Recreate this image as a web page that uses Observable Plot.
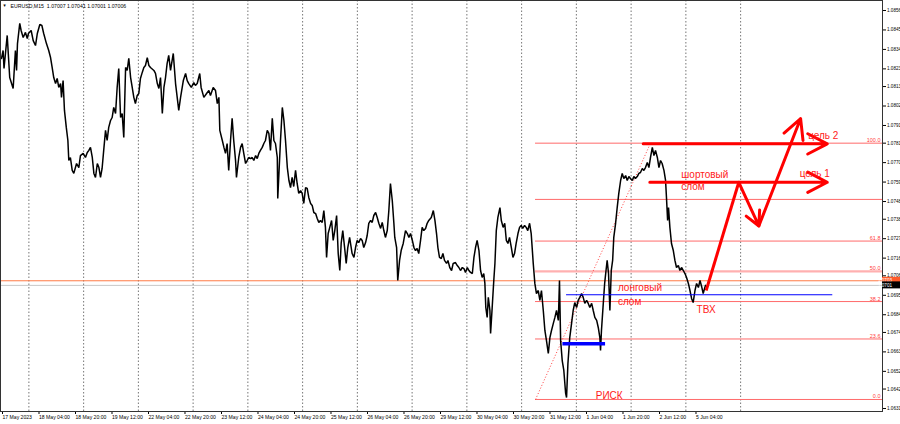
<!DOCTYPE html>
<html><head><meta charset="utf-8">
<script src="https://cdn.jsdelivr.net/npm/d3@7"></script>
<script src="https://cdn.jsdelivr.net/npm/@observablehq/plot@0.6"></script>
<style>
html,body{margin:0;padding:0;background:#fff;}
#chart{width:900px;height:424px;overflow:hidden;}
</style>
</head><body><div id="chart"></div>
<script>
// ---- header ----
const symbol = "EURUSD,M15";
const lastOHLC = [1.07007, 1.07041, 1.07001, 1.07006];

// ---- price series: [trading hours since 17 May 12:00, close] ----
const eurusdM15 = [
[0,1.08289],[0.7,1.08334],[1.1,1.08232],[2.5,1.08419],[3.6,1.08181],[5.1,1.08119],[6.1,1.08334],[6.6,1.08221],[7.0,1.08373],[8.0,1.08487],
[8.6,1.08447],[9.5,1.08407],[10.5,1.08436],[11.3,1.08401],[11.8,1.08430],[13.0,1.08447],[13.9,1.08390],[14.9,1.08362],[15.7,1.08430],[16.8,1.08481],
[17.7,1.08475],[18.5,1.08430],[19.7,1.08373],[20.7,1.08334],[21.5,1.08294],[22.2,1.08238],[22.9,1.08181],[23.7,1.08147],[24.4,1.08176],[25.1,1.08125],
[25.9,1.08147],[26.3,1.08069],[27.0,1.08164],[27.6,1.07995],[28.4,1.07899],[29.1,1.07825],[29.5,1.07712],[30.2,1.07729],[31.0,1.07656],[31.7,1.07639],
[32.9,1.07695],[33.9,1.07672],[34.6,1.07740],[35.8,1.07752],[36.8,1.07729],[37.6,1.07757],[38.3,1.07769],[39.0,1.07786],[39.8,1.07729],[40.5,1.07639],
[41.2,1.07616],[42.0,1.07695],[42.7,1.07672],[43.4,1.07616],[44.1,1.07667],[44.8,1.07769],[45.6,1.07882],[46.3,1.07825],[47.0,1.07899],[47.8,1.07938],
[48.5,1.07955],[49.2,1.08012],[50.0,1.07978],[50.7,1.08125],[51.4,1.08232],[52.2,1.07955],[52.9,1.07978],[53.6,1.07842],[54.4,1.08238],[55.1,1.08221],
[55.8,1.08289],[56.6,1.08181],[57.3,1.08125],[58.0,1.08069],[58.7,1.08034],[59.5,1.08080],[60.2,1.08091],[60.9,1.08176],[61.7,1.08210],[62.4,1.08238],
[63.1,1.08249],[63.9,1.08294],[64.6,1.08249],[65.3,1.08238],[66.8,1.08221],[67.5,1.08204],[68.3,1.08147],[69.0,1.08119],[69.7,1.08181],[70.5,1.07978],
[71.2,1.08125],[71.9,1.08181],[72.6,1.08260],[73.3,1.08306],[74.1,1.08221],[75.3,1.08317],[76.3,1.08147],[77.7,1.07995],[78.5,1.08069],[79.7,1.08164],
[80.7,1.08204],[81.4,1.08164],[82.1,1.08147],[83.2,1.08125],[84.3,1.08153],[85.0,1.08136],[85.8,1.08147],[86.9,1.08204],[87.5,1.08125],[88.7,1.08069],
[89.9,1.08091],[90.9,1.08108],[91.6,1.08080],[92.8,1.08125],[93.8,1.08108],[94.6,1.08034],[95.3,1.08069],[95.7,1.07882],[96.8,1.07825],[97.5,1.07786],
[98.2,1.07752],[98.9,1.07808],[99.6,1.07656],[100.4,1.07825],[101.1,1.07950],[101.8,1.07825],[102.6,1.07712],[103.0,1.07616],[104.0,1.07729],[104.8,1.07786],
[105.5,1.07808],[106.2,1.07752],[107.0,1.07695],[107.7,1.07712],[108.4,1.07729],[109.2,1.07723],[109.9,1.07729],[110.6,1.07712],[111.4,1.07740],[112.1,1.07723],
[112.8,1.07752],[113.5,1.07769],[114.3,1.07786],[115.0,1.07808],[115.7,1.07825],[116.5,1.07882],[117.2,1.07865],[117.9,1.07769],[118.7,1.07950],[119.4,1.07825],
[120.1,1.07808],[120.9,1.07729],[121.1,1.07497],[122.3,1.07825],[123.1,1.08012],[123.8,1.07938],[124.5,1.07825],[125.3,1.07672],[126.0,1.07599],[126.7,1.07559],
[127.4,1.07616],[128.1,1.07565],[128.9,1.07656],[129.6,1.07582],[130.3,1.07526],[131.1,1.07542],[131.8,1.07526],[132.5,1.07469],[133.3,1.07559],[134.0,1.07554],
[134.7,1.07503],[135.5,1.07469],[136.2,1.07458],[136.9,1.07418],[137.7,1.07412],[138.4,1.07384],[139.1,1.07362],[139.8,1.07373],[140.6,1.07362],[141.3,1.07429],
[142.0,1.07334],[142.5,1.07164],[143.2,1.07299],[143.9,1.07334],[144.7,1.07373],[145.4,1.07260],[146.1,1.07316],[146.9,1.07401],[147.6,1.07186],[148.3,1.07090],
[148.9,1.07243],[149.6,1.07316],[150.4,1.07220],[151.1,1.07130],[151.8,1.07220],[152.6,1.07277],[153.7,1.07186],[154.5,1.07164],[155.2,1.07220],[155.9,1.07260],
[156.6,1.07248],[157.4,1.07271],[158.1,1.07260],[158.8,1.07220],[159.6,1.07248],[160.3,1.07288],[161.0,1.07357],[161.8,1.07373],[162.5,1.07362],[163.2,1.07401],
[164.0,1.07418],[164.7,1.07390],[165.4,1.07357],[166.2,1.07328],[166.9,1.07362],[167.6,1.07316],[168.3,1.07277],[169.1,1.07316],[169.8,1.07429],[170.5,1.07582],
[171.3,1.07486],[172.0,1.07357],[172.4,1.07277],[173.2,1.07220],[173.7,1.07034],[174.5,1.07147],[175.2,1.07203],[176.1,1.07243],[177.1,1.07316],[177.9,1.07299],
[178.6,1.07277],[179.3,1.07299],[180.1,1.07260],[180.8,1.07220],[181.5,1.07203],[182.2,1.07215],[182.9,1.07186],[183.7,1.07260],[184.4,1.07334],[185.1,1.07316],
[185.9,1.07328],[186.6,1.07357],[187.3,1.07373],[188.4,1.07390],[189.3,1.07429],[190.0,1.07373],[190.7,1.07299],[191.3,1.07220],[192.0,1.07164],[192.8,1.07158],
[193.5,1.07186],[194.2,1.07147],[195.1,1.07130],[195.7,1.07147],[196.5,1.07107],[197.3,1.07090],[198.0,1.07130],[199.0,1.07135],[199.8,1.07118],[200.5,1.07107],
[201.2,1.07090],[202.0,1.07107],[202.7,1.07101],[203.4,1.07079],[204.2,1.07107],[204.9,1.07090],[205.6,1.07079],[206.4,1.07073],[207.1,1.07164],[207.8,1.07220],
[208.5,1.07260],[209.3,1.07203],[210.0,1.07090],[210.7,1.07051],[211.4,1.07073],[211.9,1.07017],[212.3,1.06881],[212.9,1.06825],[213.4,1.06938],[214.1,1.06864],
[214.4,1.06734],[215.1,1.06881],[215.8,1.07034],[216.3,1.07130],[216.9,1.07316],[217.6,1.07390],[218.5,1.07446],[219.1,1.07373],[219.9,1.07334],[220.6,1.07357],
[221.3,1.07260],[222.0,1.07243],[222.7,1.07277],[223.5,1.07220],[224.2,1.07164],[224.9,1.07186],[225.6,1.07243],[226.4,1.07299],[227.1,1.07334],[227.8,1.07345],
[228.5,1.07328],[229.3,1.07345],[230.0,1.07334],[230.7,1.07316],[231.5,1.07357],[232.2,1.07299],[233.1,1.07130],[233.8,1.07017],[234.5,1.06960],[235.3,1.06977],
[236.0,1.06921],[236.7,1.06977],[237.5,1.06864],[238.2,1.06751],[238.9,1.06694],[239.7,1.06621],[240.4,1.06711],[241.1,1.06751],[241.9,1.06791],[242.6,1.06825],
[243.3,1.06864],[244.1,1.06808],[244.6,1.07034],[245.1,1.06694],[245.8,1.06581],[246.5,1.06525],[247.3,1.06395],[247.7,1.06372],[248.3,1.06564],[249.1,1.06711],
[249.9,1.06791],[250.6,1.06864],[251.3,1.06909],[252.1,1.06881],[252.8,1.06921],[253.5,1.06938],[254.3,1.06960],[255.0,1.06938],[255.7,1.06904],[256.5,1.06921],
[257.2,1.06904],[257.9,1.06881],[258.7,1.06904],[259.4,1.06864],[260.1,1.06825],[260.9,1.06808],[261.6,1.06768],[262.3,1.06711],[262.6,1.06638],[263.0,1.06751],
[263.8,1.06904],[264.4,1.07017],[265.0,1.07090],[265.5,1.07147],[266.1,1.07073],[266.7,1.06864],[267.3,1.07090],[267.9,1.07147],[268.4,1.07277],[269.2,1.07357],
[269.9,1.07446],[270.6,1.07526],[271.4,1.07599],[272.1,1.07639],[272.8,1.07610],[273.6,1.07627],[274.3,1.07599],[275.0,1.07621],[275.7,1.07610],[276.5,1.07599],
[277.2,1.07621],[277.9,1.07610],[278.7,1.07621],[279.4,1.07639],[280.1,1.07644],[280.9,1.07667],[281.6,1.07656],[282.3,1.07672],[283.1,1.07701],[283.8,1.07672],
[284.5,1.07729],[285.3,1.07786],[286.0,1.07740],[286.7,1.07769],[287.5,1.07729],[288.2,1.07672],[288.9,1.07712],[289.6,1.07695],[290.4,1.07656],[291.1,1.07599],
[291.5,1.07503],[292.0,1.07373],[292.4,1.07446],[293.0,1.07334],[293.7,1.07243],[294.5,1.07203],[295.2,1.07147],[295.9,1.07107],[296.7,1.07118],[297.4,1.07090],
[298.1,1.07107],[298.9,1.07090],[299.6,1.07073],[300.3,1.07051],[301.1,1.07017],[301.8,1.06977],[302.5,1.06932],[303.2,1.06909],[304.0,1.06977],[304.7,1.07017],
[305.5,1.06994],[306.2,1.07034],[306.9,1.07000],[307.6,1.06960],[308.2,1.06988],[308.6,1.07006]
];

// ---- axes ----
const xDomain = [-0.44, 386.2];
const yDomain = [1.06293, 1.086165];
const xTickHours = [0,16,32,48,64,80,96,112,128,144,160,176,192,208,224,240,256,272,288,304];
const xTickLabels = ["17 May 2023","18 May 04:00","18 May 20:00","19 May 12:00","22 May 04:00","22 May 20:00","23 May 12:00","24 May 04:00","24 May 20:00","25 May 12:00","26 May 04:00","26 May 20:00","29 May 12:00","30 May 04:00","30 May 20:00","31 May 12:00","1 Jun 04:00","1 Jun 20:00","2 Jun 12:00","5 Jun 04:00"];
const dayGridHours = [12,36,60,84,108,132,156,180,204,228,252,276,300,324];
const yTicks = [1.0856,1.0845,1.0834,1.0823,1.0813,1.0802,1.0791,1.0781,1.0770,1.0759,1.0748,1.0738,1.0727,1.0716,1.0706,1.0695,1.0684,1.0674,1.0663,1.0652,1.0642,1.0631];

// ---- Fibonacci grid ----
const fibStartHour = 234.1, fibEndHour = 284.5;
const fib0Price = 1.06361, fib100Price = 1.07810;
const fibLevels = [0, 23.6, 38.2, 50, 61.8, 100];
const extraLevelPrice = 1.07492;

// ---- price lines ----
const askPrice = 1.07032, bidPrice = 1.07006;

// ---- drawn levels ----
const longBreak = [{price: 1.06953, from: 247.7, to: 364.4}];
const supportZone = [{price: 1.06676, from: 246.1, to: 264.8}];
const targets = [
  {label: "цель 2", price: 1.07806, from: 281.3, to: 362.0},
  {label: "цель 1", price: 1.07589, from: 284.2, to: 362.0}
];
const scenarioHours = [308.9, 323.2, 332.0, 350.3];
const scenarioPrices = [1.06977, 1.07589, 1.07342, 1.07949];

const notes = [
  {text: "цель 2", h: 353.6, p: 1.07853},
  {text: "цель 1", h: 349.9, p: 1.07639},
  {text: "шортовый", h: 298.0, p: 1.07633},
  {text: "слом", h: 298.0, p: 1.07565},
  {text: "лонговый", h: 270.2, p: 1.06994},
  {text: "слом", h: 270.2, p: 1.06915},
  {text: "ТВХ", h: 304.7, p: 1.06866},
  {text: "РИСК", h: 260.5, p: 1.06384}
];

const series = eurusdM15.map(([h, p]) => ({h, p}));
const fibRows = fibLevels.map(l => ({l, p: fib0Price + (fib100Price - fib0Price) * l / 100}));
const scen = scenarioHours.map((h, i) => ({h, p: scenarioPrices[i]}));
const scenSegs = d3.pairs(scen).map(([a, b]) => ({h1: a.h, p1: a.p, h2: b.h, p2: b.p}));

const RED = "#ff1a1a";
const FONT = "'Liberation Sans', Arial, sans-serif";

const plot = Plot.plot({
  width: 900, height: 424,
  marginLeft: 0, marginRight: 18, marginTop: 0, marginBottom: 13,
  x: {type: "linear", domain: xDomain},
  y: {type: "linear", domain: yDomain},
  style: {fontFamily: FONT, fontSize: "5px", background: "#fff", color: "#000", overflow: "hidden"},
  marks: [
    Plot.ruleX(dayGridHours, {stroke: "#666", strokeDasharray: "1.5,2", strokeWidth: 0.9}),
    // Fibonacci levels
    Plot.ruleY(fibRows, {y: "p", x1: fibStartHour, x2: xDomain[1], stroke: d => d.l === 50 ? "#ffb0b0" : "#ff6a6a", strokeWidth: d => d.l === 50 ? 2.2 : 1}),
    Plot.ruleY([extraLevelPrice], {y: d => d, x1: fibStartHour, x2: xDomain[1], stroke: "#ff6a6a", strokeWidth: 1}),
    Plot.link([{h1: fibStartHour, p1: fib0Price, h2: fibEndHour, p2: fib100Price}], {x1: "h1", y1: "p1", x2: "h2", y2: "p2", stroke: "#ff4040", strokeDasharray: "1,2", strokeWidth: 1}),
    Plot.text(fibRows, {y: "p", text: d => d.l.toFixed(1), frameAnchor: "right", textAnchor: "end", lineAnchor: "bottom", dx: -2, dy: -1, fill: "#ff4040", fontSize: 5.5}),
    // ask / bid lines
    Plot.ruleY([bidPrice], {stroke: "#c8c8c8", strokeWidth: 1}),
    Plot.ruleY([askPrice], {stroke: "#ff7a45", strokeWidth: 1}),
    // price
    Plot.line(series, {x: "h", y: "p", stroke: "#000", strokeWidth: 1.5, strokeLinejoin: "miter"}),
    // blue levels
    Plot.ruleY(longBreak, {y: "price", x1: "from", x2: "to", stroke: "#0000ff", strokeWidth: 1.2}),
    Plot.ruleY(supportZone, {y: "price", x1: "from", x2: "to", stroke: "#0000ff", strokeWidth: 3.5}),
    // targets
    Plot.arrow(targets, {x1: "from", x2: "to", y1: "price", y2: "price", stroke: "#ff0000", strokeWidth: 3, headLength: 11, headAngle: 55}),
    Plot.link(scenSegs.slice(0, 1), {x1: "h1", y1: "p1", x2: "h2", y2: "p2", stroke: "#ff0000", strokeWidth: 3}),
    Plot.arrow(scenSegs.slice(1), {x1: "h1", y1: "p1", x2: "h2", y2: "p2", stroke: "#ff0000", strokeWidth: 3, headLength: 11, headAngle: 55}),
    // notes
    Plot.text(notes, {x: "h", y: "p", text: "text", textAnchor: "start", fill: RED, fontSize: 10}),
    // header
    Plot.text([`${symbol}  ${lastOHLC.map(v => v.toFixed(5)).join(" ")}`], {frameAnchor: "top-left", dx: 10, dy: 3.5, lineAnchor: "top", fontSize: 5.2, fill: "#000"}),
    Plot.text(["▼"], {frameAnchor: "top-left", dx: 2, dy: 4, lineAnchor: "top", fontSize: 4.2, fill: "#000"}),
    // axes
    Plot.axisY({anchor: "right", ticks: yTicks, tickSize: 3, tickPadding: 1.5, tickFormat: d => d.toFixed(4), fontSize: 4.6}),
    Plot.axisX({ticks: xTickHours, tickSize: 3, tickPadding: 1, tickFormat: d => xTickLabels[xTickHours.indexOf(d)], textAnchor: "start", dx: 1, fontSize: 5.1}),
    Plot.frame({stroke: "#333", strokeWidth: 1})
  ]
});

// price boxes on the right scale
const ys = plot.scale("y");
const svg = d3.select(plot);
const x0 = 900 - 18;
[{p: askPrice, bg: "#ff5a2a", txt: askPrice.toFixed(4)}, {p: bidPrice, bg: "#000", txt: lastOHLC[3].toFixed(4)}].forEach(b => {
  const yy = ys.apply(b.p);
  const g = svg.append("g");
  g.append("rect").attr("x", x0).attr("y", yy - 3.5).attr("width", 18).attr("height", 7).attr("fill", b.bg);
  g.append("text").attr("x", x0 + 3).attr("y", yy + 1.8).attr("fill", "#fff").attr("font-size", 4.6).attr("font-family", FONT).text(b.txt);
});

document.getElementById("chart").appendChild(plot);
</script>
</body></html>
